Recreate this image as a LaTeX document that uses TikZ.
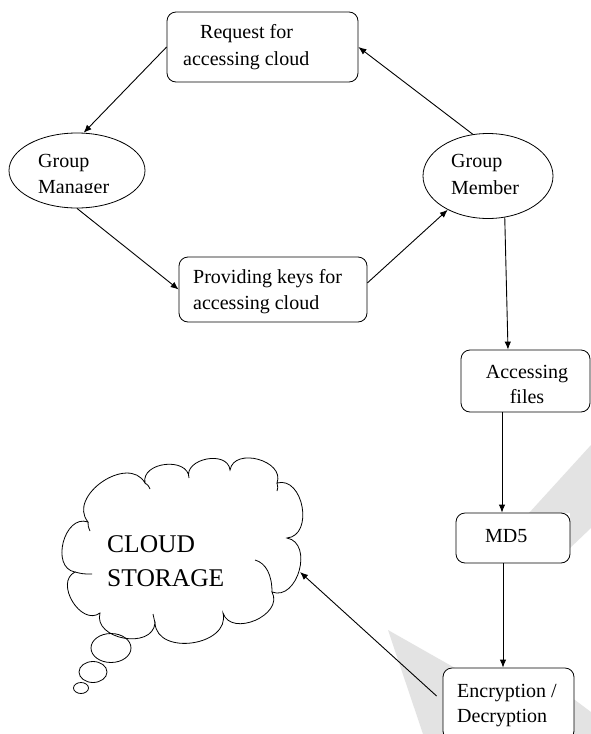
\documentclass[tikz,border=0pt]{standalone}
\usepackage{fontspec}
\setmainfont{Liberation Serif}
\usetikzlibrary{arrows.meta,calc,shapes.geometric}
\begin{document}
\begin{tikzpicture}[x=1pt,y=-1pt,
  box/.style={draw=black,line width=0.8pt,rounded corners=9pt,fill=white,inner sep=0pt},
  oval/.style={draw=black,line width=0.8pt,ellipse,fill=white,inner sep=0pt},
  txt/.style={anchor=base west,inner sep=0pt,font=\fontsize{20}{24}\selectfont},
  ctxt/.style={anchor=base,inner sep=0pt,font=\fontsize{20}{24}\selectfont},
  arr/.style={line width=0.9pt,-{Latex[length=8pt,width=6.5pt]}},
  bump/.style={bend left=95,looseness=1.25},
  inner/.style={line width=0.8pt},
  wm/.style={fill=black!11,draw=none}]
\useasboundingbox (0,0) rectangle (591,734);
\fill[white] (0,0) rectangle (591,734);
% watermark
\fill[wm] (591,445) -- (529,513) -- (570,513) -- (570,548) -- (591,528) -- cycle;
\fill[wm] (388,630) -- (455,668) -- (575,700) -- (591,712) -- (591,734) -- (423,734) -- cycle;
% nodes
\node[box,minimum width=191pt,minimum height=70pt] (req) at (262.5,47) {};
\node[txt] (reqA) at (200,38) {Request for};
\node[txt] (reqB) at (183,65) {accessing cloud};
\node[oval,minimum width=136pt,minimum height=75pt] (gm) at (77,170.5) {};
\node[txt] (gmA) at (38,167) {Group};
\begin{scope}
\clip (0,150) rectangle (200,192.5);
\node[txt] (gmB) at (38,193) {Manager};
\end{scope}
\node[oval,minimum width=130pt,minimum height=85pt] (mem) at (488,176) {};
\node[txt] (memA) at (451,167) {Group};
\node[txt] (memB) at (451,194) {Member};
\node[box,minimum width=188pt,minimum height=65pt] (prov) at (273,289.5) {};
\node[txt] (provA) at (193,283) {Providing keys for};
\node[txt] (provB) at (193,309) {accessing cloud};
\node[box,minimum width=129pt,minimum height=62pt] (acc) at (525.5,381) {};
\node[ctxt] (accA) at (527,378) {Accessing};
\node[ctxt] (accB) at (527,403) {files};
\node[box,minimum width=114pt,minimum height=50pt] (md5) at (513,538) {};
\node[txt] (md5A) at (485,542) {MD5};
\node[box,minimum width=131pt,minimum height=72pt] (enc) at (508.5,704) {};
\node[txt] (encA) at (457,697) {Encryption /};
\node[txt] (encB) at (457,722) {Decryption};
% cloud
\coordinate (c1) at (88,522);
\coordinate (c2) at (145,483);
\coordinate (c3) at (189,478);
\coordinate (c4) at (230,470);
\coordinate (c5) at (277,483);
\coordinate (c6) at (287,538);
\coordinate (c7) at (272,592);
\coordinate (c8) at (223,613);
\coordinate (c9) at (155,623);
\coordinate (c10) at (100,613);
\coordinate (c11) at (75,572);
\draw[line width=0.8pt,fill=white] (c1) to[bump] (c2) to[bump] (c3)
  to[bump] (c4) to[bump] (c5) to[bump] (c6) to[bump] (c7)
  to[bump] (c8) to[bump] (c9) to[bump] (c10) to[bump] (c11)
  to[bump] (c1) -- cycle;
% small inner arcs of the cloud outline
\draw[inner] (c1) .. controls (88,526) .. (90,531);
\draw[inner] (c11) .. controls (83,574) .. (92,574);
\draw[inner] (c2) .. controls (148,485) .. (150,489);
\draw[inner] (c5) .. controls (278,488) .. (277,491);
\draw[inner] (c7) .. controls (272,575) and (266,563) .. (255,560);
\draw[inner] (c9) .. controls (154,618) .. (153,614);
\node[txt,font=\fontsize{25.5}{30}\selectfont] (cloudA) at (107,552) {CLOUD};
\node[txt,font=\fontsize{25.5}{30}\selectfont] (cloudB) at (107,586) {STORAGE};
\coordinate (ctip) at (300,572);
\draw[line width=0.8pt] (111,648) ellipse[x radius=20,y radius=14.5];
\draw[line width=0.8pt] (93,672) ellipse[x radius=14,y radius=10.5];
\draw[line width=0.8pt] (81,688) ellipse[x radius=7.5,y radius=5.5];
% connectors
\draw[arr] (req.west) -- (gm.80);
\draw[arr] (mem.110) -- (req.east);
\draw[arr] (gm.south) -- (prov.west);
\draw[arr] (prov.4) -- (mem.220);
\draw[arr] (mem.-68) -- ($(acc.north)+(-17.5,0)$);
\draw[arr] ($(acc.south)+(-23.5,0)$) -- ($(md5.north)+(-11,0)$);
\draw[arr] ($(md5.south)+(-10,0)$) -- ($(enc.north)+(-5.5,0)$);
\draw[arr] ($(enc.west)+(-6,-8)$) -- (ctip);
\end{tikzpicture}
\end{document}
